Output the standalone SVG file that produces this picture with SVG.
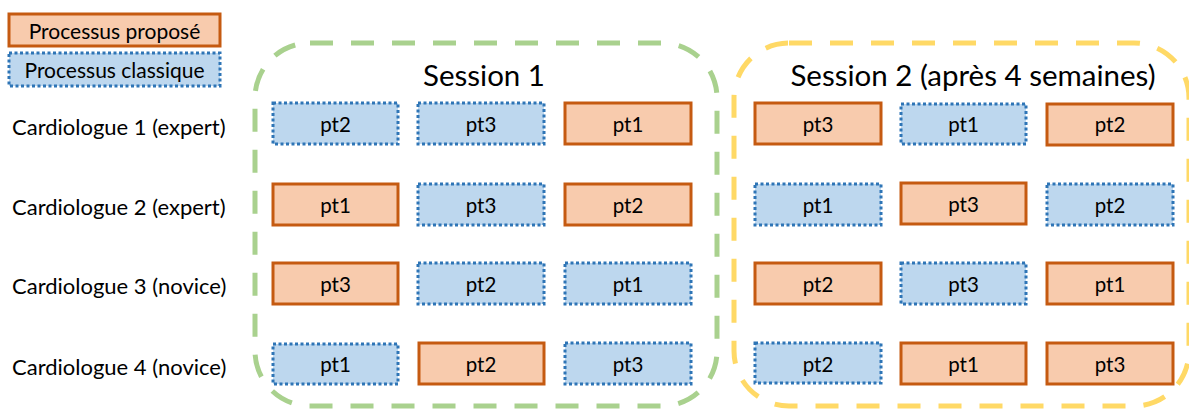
<svg xmlns="http://www.w3.org/2000/svg" width="1189" height="410" viewBox="0 0 1189 410">
<style>
text{font-family:Lato,"Open Sans","Liberation Sans",sans-serif;fill:#000}
.p{fill:#F8CBAD;stroke:#C55A11;stroke-width:3}
.c{fill:#BDD7EE;stroke:#2E75B6;stroke-width:3;stroke-dasharray:3 2.5}
.t{font-size:20.5px;text-anchor:middle;dominant-baseline:central}
.lg{font-size:21px;text-anchor:middle;dominant-baseline:central}
.lbl{font-size:22px;dominant-baseline:central}
.s{font-size:29.5px;text-anchor:middle}
.g{fill:none;stroke-width:5;stroke-dasharray:23 18}
</style>
<g id="legend">
<g id="leg-propose"><rect class="p" x="9" y="14" width="211" height="32"/><text class="lg" x="114.5" y="30">Processus proposé</text></g>
<g id="leg-classique"><rect class="c" x="9" y="53" width="211" height="33"/><text class="lg" x="114.5" y="69.5">Processus classique</text></g>
</g>
<g id="session1"><rect class="g" stroke="#A9D18E" x="255" y="43" width="462" height="363" rx="55"/><text class="s" x="484" y="86">Session 1</text></g>
<g id="session2"><rect class="g" stroke="#FFD966" x="734" y="43" width="455" height="363" rx="55"/><text class="s" x="973" y="86">Session 2 (après 4 semaines)</text></g>
<g id="labels">
<text class="lbl" x="12" y="126">Cardiologue 1 (expert)</text>
<text class="lbl" x="12" y="206">Cardiologue 2 (expert)</text>
<text class="lbl" x="12" y="285">Cardiologue 3 (novice)</text>
<text class="lbl" x="12" y="366">Cardiologue 4 (novice)</text>
</g>
<g id="nodes">
<g id="s1r1c1"><rect class="c" x="273" y="103" width="125" height="41"/><text class="t" x="335.5" y="124">pt2</text></g>
<g id="s1r1c2"><rect class="c" x="418" y="103" width="126" height="41"/><text class="t" x="481" y="124">pt3</text></g>
<g id="s1r1c3"><rect class="p" x="565" y="103" width="126" height="41"/><text class="t" x="628" y="124">pt1</text></g>
<g id="s1r2c1"><rect class="p" x="273" y="184" width="125" height="41"/><text class="t" x="335.5" y="205">pt1</text></g>
<g id="s1r2c2"><rect class="c" x="418" y="184" width="126" height="41"/><text class="t" x="481" y="205">pt3</text></g>
<g id="s1r2c3"><rect class="p" x="565" y="184" width="126" height="41"/><text class="t" x="628" y="205">pt2</text></g>
<g id="s1r3c1"><rect class="p" x="273" y="263" width="125" height="41"/><text class="t" x="335.5" y="284">pt3</text></g>
<g id="s1r3c2"><rect class="c" x="418" y="263" width="126" height="41"/><text class="t" x="481" y="284">pt2</text></g>
<g id="s1r3c3"><rect class="c" x="565" y="263" width="126" height="41"/><text class="t" x="628" y="284">pt1</text></g>
<g id="s1r4c1"><rect class="c" x="273" y="344" width="125" height="40"/><text class="t" x="335.5" y="364">pt1</text></g>
<g id="s1r4c2"><rect class="p" x="419" y="343" width="125" height="41"/><text class="t" x="481" y="364">pt2</text></g>
<g id="s1r4c3"><rect class="c" x="565" y="343" width="126" height="41"/><text class="t" x="628" y="364">pt3</text></g>
<g id="s2r1c1"><rect class="p" x="755" y="103" width="126" height="41"/><text class="t" x="818" y="124">pt3</text></g>
<g id="s2r1c2"><rect class="c" x="901" y="104" width="125" height="40"/><text class="t" x="963.5" y="124">pt1</text></g>
<g id="s2r1c3"><rect class="p" x="1047" y="104" width="126" height="41"/><text class="t" x="1110" y="124">pt2</text></g>
<g id="s2r2c1"><rect class="c" x="755" y="184" width="126" height="41"/><text class="t" x="818" y="205">pt1</text></g>
<g id="s2r2c2"><rect class="p" x="901" y="183" width="125" height="41"/><text class="t" x="963.5" y="204">pt3</text></g>
<g id="s2r2c3"><rect class="c" x="1047" y="184" width="126" height="41"/><text class="t" x="1110" y="205">pt2</text></g>
<g id="s2r3c1"><rect class="p" x="755" y="263" width="126" height="41"/><text class="t" x="818" y="284">pt2</text></g>
<g id="s2r3c2"><rect class="c" x="901" y="263" width="125" height="41"/><text class="t" x="963.5" y="284">pt3</text></g>
<g id="s2r3c3"><rect class="p" x="1047" y="263" width="126" height="41"/><text class="t" x="1110" y="284">pt1</text></g>
<g id="s2r4c1"><rect class="c" x="755" y="343" width="126" height="40"/><text class="t" x="818" y="364">pt2</text></g>
<g id="s2r4c2"><rect class="p" x="901" y="343" width="125" height="41"/><text class="t" x="963.5" y="364">pt1</text></g>
<g id="s2r4c3"><rect class="p" x="1047" y="343" width="126" height="41"/><text class="t" x="1110" y="364">pt3</text></g>
</g>
<g id="connectors"/>
</svg>
